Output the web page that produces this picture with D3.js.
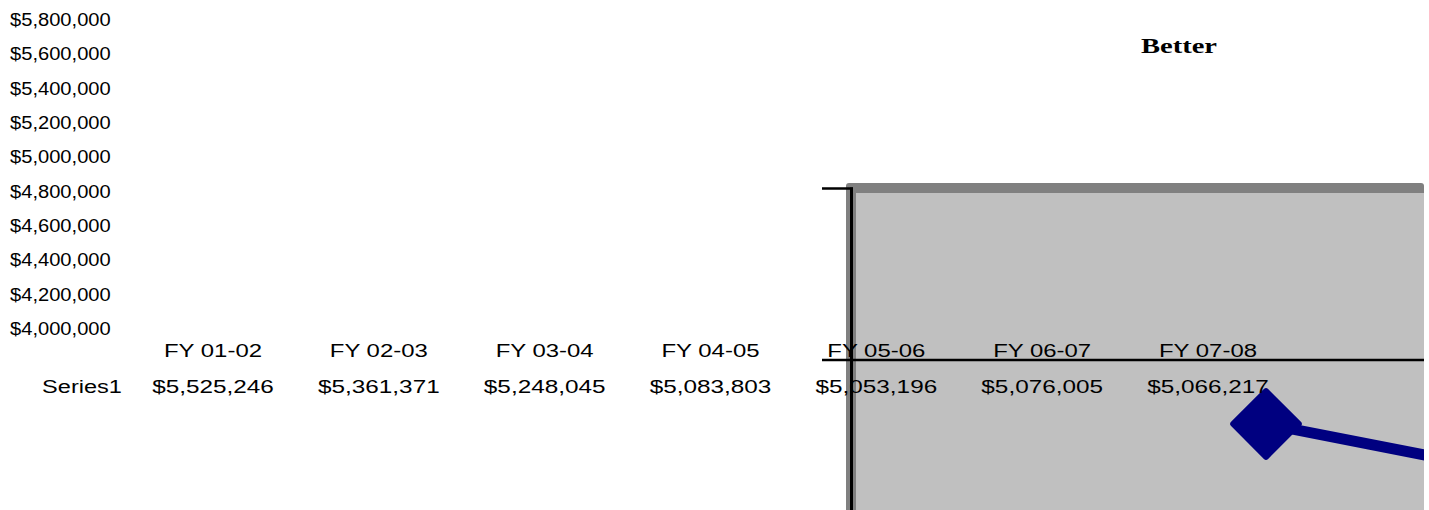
<!DOCTYPE html>
<html>
    <head>
        <script src="https://d3js.org/d3.v7.min.js"></script>
        <style>
            body { margin: 0; background: #fff; }
            text { font-family: "Liberation Sans", Arial, sans-serif; }
        </style>
    </head>
    <body>
    <script type="text/javascript">
        // data
        var categories = ["FY 01-02", "FY 02-03", "FY 03-04", "FY 04-05", "FY 05-06", "FY 06-07", "FY 07-08"];
        var series1 = [5525246, 5361371, 5248045, 5083803, 5053196, 5076005, 5066217];
        var seriesName = "Series1";
        var yTicks = [4000000, 4200000, 4400000, 4600000, 4800000, 5000000, 5200000, 5400000, 5600000, 5800000];
        var title = "Better";

        var width = 1429, height = 510;

        var svg = d3.select("body").append("svg")
            .attr("width", width)
            .attr("height", height);

        var money = d3.format("$,");

        // value axis labels (no axis line in the picture)
        var yAxisScale = d3.scaleLinear()
            .domain([4000000, 5800000])
            .range([335, 26]);

        svg.append("g").selectAll("text")
            .data(yTicks)
            .enter().append("text")
            .attr("transform", function(d) { return "translate(10," + yAxisScale(d) + ") scale(1.06,1)"; })
            .attr("font-size", 19)
            .attr("fill", "#000")
            .text(function(d) { return money(d); });

        // plot area, pushed off to the lower right
        var plotX0 = 846, plotY0 = 183, plotX1 = 1424;

        svg.append("defs").append("clipPath").attr("id", "plotclip")
            .append("rect")
            .attr("x", plotX0).attr("y", plotY0)
            .attr("width", plotX1 - plotX0).attr("height", height - plotY0 + 10);

        svg.append("rect")
            .attr("x", plotX0).attr("y", plotY0)
            .attr("width", plotX1 - plotX0).attr("height", height - plotY0 + 20)
            .attr("rx", 3)
            .attr("fill", "#808080");
        svg.append("rect")
            .attr("x", plotX0 + 10).attr("y", plotY0 + 10)
            .attr("width", plotX1 - plotX0 - 10).attr("height", height - plotY0)
            .attr("fill", "#c0c0c0");

        // axis lines
        svg.append("line")
            .attr("x1", 851.5).attr("x2", 851.5)
            .attr("y1", 187.5).attr("y2", height + 5)
            .attr("stroke", "#000").attr("stroke-width", 3);
        svg.append("line")
            .attr("x1", 822).attr("x2", 853)
            .attr("y1", 188.5).attr("y2", 188.5)
            .attr("stroke", "#000").attr("stroke-width", 2.5);
        svg.append("line")
            .attr("x1", 822).attr("x2", plotX1)
            .attr("y1", 360).attr("y2", 360)
            .attr("stroke", "#000").attr("stroke-width", 2.5);

        // the series line
        var xPlot = d3.scalePoint()
            .domain(categories)
            .range([1266, 1266 + 200 * (categories.length - 1)]);
        var yPlot = d3.scaleLinear()
            .domain([4000000, 5800000])
            .range([787, 358.6]);

        var plotG = svg.append("g").attr("clip-path", "url(#plotclip)");

        var line = d3.line()
            .x(function(d, i) { return xPlot(categories[i]); })
            .y(function(d) { return yPlot(d); });

        plotG.append("path")
            .datum(series1)
            .attr("d", line)
            .attr("fill", "none")
            .attr("stroke", "#000080")
            .attr("stroke-width", 11);

        plotG.selectAll("path.marker")
            .data(series1)
            .enter().append("path")
            .attr("class", "marker")
            .attr("d", d3.symbol().type(d3.symbolSquare).size(2150))
            .attr("transform", function(d, i) {
                return "translate(" + xPlot(categories[i]) + "," + yPlot(d) + ") rotate(45)";
            })
            .attr("fill", "#000080")
            .attr("stroke", "#000080")
            .attr("stroke-width", 6)
            .attr("stroke-linejoin", "round");

        // data table
        var xTable = d3.scalePoint()
            .domain(categories)
            .range([213, 1208]);

        svg.append("g").selectAll("text")
            .data(categories)
            .enter().append("text")
            .attr("transform", function(d) { return "translate(" + xTable(d) + ",357) scale(1.26,1)"; })
            .attr("text-anchor", "middle")
            .attr("font-size", 19)
            .text(function(d) { return d; });

        svg.append("g").selectAll("text")
            .data(series1)
            .enter().append("text")
            .attr("transform", function(d, i) { return "translate(" + xTable(categories[i]) + ",393) scale(1.28,1)"; })
            .attr("text-anchor", "middle")
            .attr("font-size", 19)
            .text(function(d) { return money(d); });

        svg.append("text")
            .attr("transform", "translate(82,393) scale(1.24,1)")
            .attr("text-anchor", "middle")
            .attr("font-size", 19)
            .text(seriesName);

        svg.append("text")
            .attr("transform", "translate(1179,53) scale(1.36,1)")
            .attr("text-anchor", "middle")
            .attr("font-size", 21)
            .attr("font-weight", "bold")
            .style("font-family", "'Liberation Serif', 'Times New Roman', serif")
            .text(title);
    </script>
    </body>
</html>
